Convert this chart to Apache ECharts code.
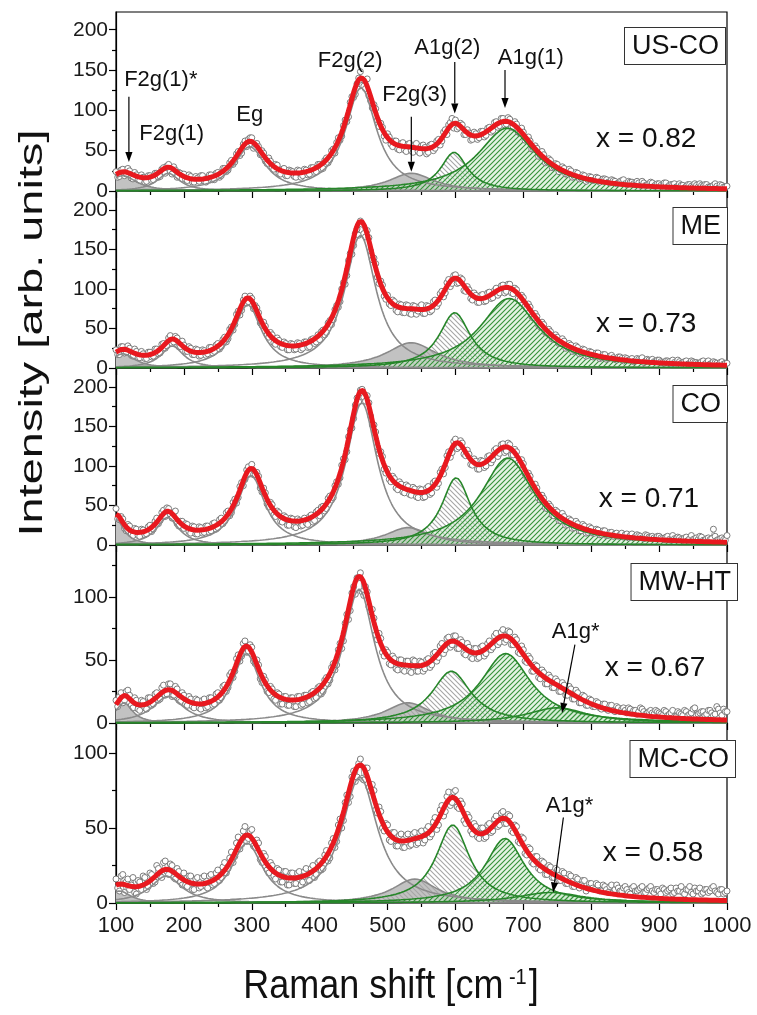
<!DOCTYPE html>
<html>
<head>
<meta charset="utf-8">
<script src="https://cdn.jsdelivr.net/npm/echarts@6/dist/echarts.min.js"></script>
<style>
  html, body { margin: 0; padding: 0; background: #fff; }
  #chart { width: 757px; height: 1015px; }
</style>
</head>
<body>
<div id="chart"></div>
<script>
// Raman spectra of five samples with their Lorentzian peak decomposition.

const FONT = '"Liberation Sans", Arial, Helvetica, sans-serif';

const sampleNames = ['US-CO', 'ME', 'CO', 'MW-HT', 'MC-CO'];
const stoichLabels = ['x = 0.82', 'x = 0.73', 'x = 0.71', 'x = 0.67', 'x = 0.58'];
const modeNames = ['F2g(1)*', 'F2g(1)', 'Eg', 'F2g(2)', 'F2g(3)', 'A1g(2)', 'A1g(1)', 'A1g*'];

const xTicks = [100, 200, 300, 400, 500, 600, 700, 800, 900, 1000];
const yMax = [222, 224, 224, 141, 120];
const yMajorTall = [0, 50, 100, 150, 200];
const yMinorTall = [25, 75, 125, 175];
const yMajorShort = [0, 50, 100];
const yMinorMid = [25, 75, 125];
const yMinorShort = [25, 75];

// Fitted peaks: centre (cm-1), height (arb. units), half width at half maximum (cm-1)
const centreUSCO = [110, 177, 297, 461, 535, 598, 676];
const heightUSCO = [19, 22, 55, 128, 22, 48, 78];
const hwhmUSCO = [25, 20, 28, 28, 40, 24, 52];

const centreME = [110, 183, 294, 460, 535, 599, 679];
const heightME = [18, 28, 80, 168, 32, 70, 88];
const hwhmME = [22, 20, 25, 28, 45, 28, 52];

const centreCO = [100, 176, 299, 462, 530, 601, 677];
const heightCO = [33, 35, 88, 180, 22, 85, 110];
const hwhmCO = [14, 20, 25, 28, 40, 26, 48];

const centreMWHT = [112, 177, 292, 458, 530, 594, 674, 750];
const heightMWHT = [16, 21, 55, 106, 16, 41, 55, 12];
const hwhmMWHT = [15, 28, 25, 28, 40, 35, 45, 55];

const centreMCCO = [105, 174, 293, 459, 540, 596, 673, 740];
const heightMCCO = [8, 18, 40, 84, 16, 52, 43, 7];
const hwhmMCCO = [20, 28, 28, 32, 40, 30, 35, 60];

// Measured intensities: one set at 100, 105, ... 1000 cm-1 and one at 102.5, 107.5, ... 997.5 cm-1
const shiftStart = 100;
const shiftStartMid = 102.5;
const shiftStep = 5;

const obsUSCO = [
  24,18,27,21,25,15,20,13,17,12,19,14,22,18,29,31,24,30,17,22,
  21,13,18,11,16,19,12,17,20,14,23,19,28,26,38,36,49,47,62,64,
  66,58,55,50,37,41,29,33,22,27,19,26,24,17,25,19,26,21,29,24,
  33,28,41,39,52,60,63,81,86,110,116,133,148,130,139,112,107,88,84,68,
  71,58,62,52,59,51,58,50,57,49,56,54,48,58,53,64,62,76,82,90,
  88,79,82,70,72,64,71,66,74,69,79,75,86,81,90,83,89,80,83,72,
  73,64,62,52,53,44,45,36,38,30,33,26,28,21,25,18,22,16,19,14,
  17,14,16,13,15,11,14,12,10,13,9,12,11,8,10,12,7,9,10,8,
  9,6,10,7,8,5,9,7,6,8,5,7,9,6,8,5,7,6,8,5,6
];
const obsUSCOmid = [
  17,26,19,28,16,23,14,20,11,19,13,22,17,27,22,33,21,26,23,15,
  14,20,11,18,12,19,11,20,14,22,17,28,24,35,33,46,44,58,55,66,
  53,59,45,47,34,37,27,32,21,28,19,25,18,26,17,27,20,29,23,33,
  27,38,35,50,47,66,68,88,92,117,120,140,131,127,118,103,102,80,79,63,
  67,55,62,51,60,49,59,48,59,47,57,46,57,50,62,57,73,70,85,78,
  77,84,70,76,63,73,64,74,67,78,73,85,79,90,82,91,79,86,73,78,
  63,67,52,56,43,49,35,40,29,34,24,30,21,27,17,23,15,20,12,18,
  13,17,11,15,14,10,13,9,12,14,8,11,9,12,7,10,8,11,6,9,
  7,10,5,8,9,6,7,4,8,6,9,5,7,8,5,6,9,4,7,5
];
const obsME = [
  23,17,27,20,25,15,21,13,18,12,20,15,24,19,31,28,41,33,38,27,
  29,21,25,17,23,16,22,18,26,21,31,27,39,37,52,55,72,73,91,84,
  88,79,70,54,53,39,42,30,35,26,31,23,30,24,31,25,33,27,37,33,
  36,48,45,60,61,79,84,108,117,145,155,176,186,170,174,148,139,115,110,91,
  92,79,84,71,80,70,79,68,78,72,80,69,78,73,86,82,97,95,112,107,
  118,108,112,97,99,86,92,83,93,85,96,89,101,95,105,97,106,94,99,86,
  89,76,77,63,65,52,55,44,46,36,39,31,34,26,29,22,26,19,23,16,
  20,15,19,13,17,12,16,11,14,12,13,10,12,9,11,13,9,10,11,8,
  10,7,9,8,10,6,8,7,9,6,8,7,6,9,7,5,8,6,7,5,6
];
const obsMEmid = [
  17,27,19,28,16,24,13,21,12,20,14,24,18,30,25,38,31,40,27,34,
  21,27,17,24,15,23,16,26,19,29,24,36,33,49,48,68,67,86,82,91,
  75,76,57,58,42,45,32,38,27,33,23,31,23,32,23,33,26,36,31,42,
  46,42,57,55,74,77,100,106,136,144,170,168,182,166,165,137,132,107,105,87,
  81,86,73,81,70,80,69,79,68,78,69,79,71,84,78,94,90,108,103,117,
  107,114,98,103,88,95,83,92,84,95,88,98,92,104,95,106,95,101,88,92,
  78,81,65,69,54,58,45,49,37,42,31,37,25,31,21,28,18,24,15,21,
  14,19,12,17,11,15,13,10,14,9,12,11,8,12,10,7,11,9,8,10,
  8,6,9,5,7,10,6,8,5,9,7,6,8,5,9,6,7,4,8,6
];
const obsCO = [
  46,32,33,18,24,12,20,11,19,14,25,20,34,31,44,47,39,41,27,30,
  21,26,15,23,14,22,16,24,18,28,22,34,30,43,41,58,60,79,83,99,
  102,89,87,67,66,48,51,36,41,29,35,25,33,22,31,25,28,36,29,42,
  37,49,46,62,60,80,85,109,118,146,160,186,196,187,189,163,152,124,118,96,
  96,80,84,70,77,66,74,63,71,60,70,61,74,66,81,78,96,98,118,117,
  134,124,129,113,115,101,106,96,106,100,113,108,122,116,128,119,127,114,118,102,
  103,86,87,70,72,57,59,46,49,37,42,31,36,26,31,22,27,18,24,16,
  21,15,19,13,18,12,16,14,11,15,13,9,14,11,12,9,13,10,11,8,
  11,8,10,7,12,8,9,6,10,8,7,9,11,6,8,7,20,6,8,7,12
];
const obsCOmid = [
  33,36,21,26,14,21,12,20,13,23,17,30,27,41,36,46,34,43,24,30,
  27,17,24,14,23,15,24,16,27,20,32,27,41,37,54,53,74,75,95,90,
  89,92,72,72,52,54,38,43,30,37,25,34,23,33,24,34,26,38,31,44,
  48,43,59,57,75,77,101,108,137,148,177,181,197,182,180,152,143,116,112,91,
  83,87,72,80,67,76,64,73,61,71,60,72,64,79,73,92,90,113,111,131,
  122,132,115,120,102,109,96,107,98,112,104,120,112,127,117,129,114,121,104,108,
  90,91,73,77,59,63,47,52,38,44,31,40,25,33,21,30,18,26,15,23,
  15,20,13,18,12,16,11,15,13,10,14,12,9,13,11,8,12,10,9,11,
  9,7,11,6,8,10,7,9,6,12,8,7,10,6,9,8,11,7,9,6
];
const obsMWHT = [
  18,21,16,25,22,12,18,10,17,11,20,15,24,19,30,23,31,22,27,17,
  22,14,19,12,18,11,19,13,20,15,24,20,30,28,40,41,54,53,65,57,
  60,47,46,32,34,24,27,18,23,15,21,14,20,13,21,15,22,17,25,20,
  29,25,36,34,47,46,63,65,86,89,108,115,119,101,104,88,83,66,67,53,
  56,46,51,42,50,41,49,40,49,41,48,43,51,46,56,52,63,58,68,62,
  69,59,64,54,60,51,59,52,61,55,65,60,71,64,74,66,72,62,66,55,
  58,48,51,41,45,35,40,31,36,28,33,25,30,22,27,19,24,16,21,14,
  18,13,16,11,15,10,14,9,12,11,10,12,8,10,9,11,7,9,8,10,
  8,6,9,7,10,5,8,6,9,7,11,6,8,9,7,10,6,13,8,11,9
];
const obsMWHTmid = [
  13,24,18,26,14,20,11,18,12,20,14,23,18,28,22,31,21,29,18,24,
  15,21,13,19,12,18,12,20,14,23,18,29,25,38,36,51,49,63,56,62,
  49,50,35,37,25,29,19,24,15,21,14,20,13,21,14,22,16,24,19,28,
  23,34,31,44,42,58,59,79,82,103,102,115,104,108,92,90,70,71,56,58,
  47,53,43,50,42,49,41,50,41,49,41,50,44,55,49,61,55,67,60,69,
  59,66,55,63,52,59,51,60,53,63,58,69,62,72,64,73,62,68,56,61,
  49,53,41,46,36,42,31,38,28,35,25,32,22,29,19,26,16,22,14,19,
  13,17,12,15,11,14,10,13,9,12,8,11,10,7,12,9,8,10,7,9,
  7,10,6,8,5,9,7,10,6,8,12,7,9,6,10,8,7,11,6,9
];
const obsMCCO = [
  16,8,19,14,9,17,6,14,18,9,20,13,25,18,27,21,26,17,23,14,
  20,11,18,9,17,11,18,10,19,13,22,17,27,23,34,31,44,39,51,43,
  49,37,40,27,31,20,25,16,22,14,21,12,20,13,21,14,23,15,25,19,
  28,23,35,30,43,41,56,55,72,71,88,84,96,82,90,75,75,60,61,48,
  52,41,47,38,46,37,46,39,47,40,48,42,51,46,57,52,65,61,74,67,
  75,63,66,53,57,46,51,43,50,44,53,48,58,52,61,53,58,47,51,40,
  43,32,36,26,31,22,27,19,24,17,22,15,20,13,18,11,16,12,15,10,
  13,9,12,8,11,7,12,9,10,8,11,7,10,8,9,11,7,10,8,9,
  8,10,7,9,6,10,8,7,9,11,6,8,10,7,9,8,11,7,9,6,8
];
const obsMCCOmid = [
  10,18,7,16,12,7,15,9,17,11,19,14,23,17,28,19,25,16,21,12,
  12,18,9,16,10,17,11,18,12,20,15,24,20,30,27,40,36,48,41,48,
  38,42,29,33,22,27,18,23,14,21,12,20,13,20,12,21,15,23,17,27,
  22,32,28,40,37,52,50,67,67,84,81,93,83,90,77,79,62,64,50,53,
  42,47,38,45,37,45,38,46,39,47,40,49,44,54,49,62,58,71,65,74,
  64,68,55,59,48,53,44,50,43,52,47,56,51,60,53,59,48,52,41,44,
  33,37,27,31,23,28,19,25,17,23,15,21,13,19,11,17,10,15,8,13,
  10,13,8,12,9,11,7,12,8,10,9,6,11,8,10,7,9,11,7,9,
  6,9,8,10,7,8,11,6,9,7,10,8,6,9,7,10,8,6,9,7
];

const peakCentres = [centreUSCO, centreME, centreCO, centreMWHT, centreMCCO];
const peakHeights = [heightUSCO, heightME, heightCO, heightMWHT, heightMCCO];
const peakWidths = [hwhmUSCO, hwhmME, hwhmCO, hwhmMWHT, hwhmMCCO];
const observed = [obsUSCO, obsME, obsCO, obsMWHT, obsMCCO];
const observedMid = [obsUSCOmid, obsMEmid, obsCOmid, obsMWHTmid, obsMCCOmid];

// Panel layout in pixels
const gridTop = [12, 191, 368, 545, 723];
const gridHeight = [179, 177, 177, 178, 180];
const gridLeft = 116, gridRight = 30;

// Annotations: [panel, label, x, y]
const modeLabels = [
  [0, 'F2g(1)*', 166, 138], [0, 'F2g(1)', 182, 71], [0, 'Eg', 297, 94],
  [0, 'F2g(2)', 445, 161], [0, 'F2g(3)', 540, 119], [0, 'A1g(2)', 588, 178],
  [0, 'A1g(1)', 711, 165], [3, 'A1g*', 777, 72], [4, 'A1g*', 768, 65]
];
// Arrows: [panel, fromX, fromY, toX, toY]
const modeArrows = [
  [0, 119, 117, 119, 36], [0, 535, 92, 535, 24], [0, 599, 160, 599, 96],
  [0, 673, 150, 673, 103], [3, 776, 62, 757, 8], [4, 759, 57, 744, 7]
];
// Composition label positions: [x, y] per panel
const stoichPos = [[881, 64], [881, 55], [885, 58], [894, 43], [891, 33]];
// Sample box: right edge and top (px)
const boxRight = [725, 727, 727, 737, 735];
const boxTop = [28, 208, 386, 564, 741];

function lorentz(h, c, w, x) {
  const d = (x - c) / w;
  return h / (1 + d * d);
}

function hatch(stroke, bg, rising) {
  const s = 5;
  const cv = document.createElement('canvas');
  cv.width = s; cv.height = s;
  const g = cv.getContext('2d');
  if (bg) { g.fillStyle = bg; g.fillRect(0, 0, s, s); }
  g.strokeStyle = stroke;
  g.lineWidth = 1.1;
  g.beginPath();
  if (rising) {
    g.moveTo(0, s); g.lineTo(s, 0);
    g.moveTo(-1, 1); g.lineTo(1, -1);
    g.moveTo(s - 1, s + 1); g.lineTo(s + 1, s - 1);
  } else {
    g.moveTo(0, 0); g.lineTo(s, s);
    g.moveTo(s - 1, -1); g.lineTo(s + 1, 1);
    g.moveTo(-1, s - 1); g.lineTo(1, s + 1);
  }
  g.stroke();
  return cv;
}

const GREY_LINE = '#8a8a8a';
const GREEN_LINE = '#27862a';
const RED = '#e8191f';
const greyFill = '#c2c2c2';
const greyHatch = { image: hatch('#a6a6a6', null, false), repeat: 'repeat' };
const greenHatch = { image: hatch('#35923a', 'rgba(200,232,200,0.5)', true), repeat: 'repeat' };

// Per mode: line colour and area fill
const modeStyle = [
  { line: GREY_LINE, fill: greyFill },
  { line: GREY_LINE, fill: null },
  { line: GREY_LINE, fill: null },
  { line: GREY_LINE, fill: null },
  { line: GREY_LINE, fill: greyFill },
  { line: GREEN_LINE, fill: greyHatch },
  { line: GREEN_LINE, fill: greenHatch },
  { line: GREEN_LINE, fill: greenHatch }
];

const grids = [], xAxes = [], yAxes = [], yMinorAxes = [], series = [];

for (let p = 0; p < 5; p++) {
  grids.push({
    left: gridLeft, right: gridRight, top: gridTop[p], height: gridHeight[p],
    show: true, borderColor: '#000', borderWidth: 1.2, backgroundColor: 'transparent'
  });
  xAxes.push({
    gridIndex: p, type: 'value', min: 100, max: 1000, interval: 100,
    axisLine: { show: true, onZero: false, lineStyle: { color: '#000', width: 1.2 } },
    axisTick: { show: true, inside: false, length: 7, lineStyle: { color: '#000', width: 1.2 } },
    minorTick: { show: true, splitNumber: 2, length: 4, lineStyle: { color: '#000', width: 1.2 } },
    axisLabel: { show: p === 4, fontSize: 22, fontFamily: FONT, color: '#1a1a1a', margin: 12,
      customValues: xTicks, formatter: (v) => String(v) },
    splitLine: { show: false }, minorSplitLine: { show: false }
  });
  const major = p < 3 ? yMajorTall : yMajorShort;
  const minor = p < 3 ? yMinorTall : (p === 3 ? yMinorMid : yMinorShort);
  yAxes.push({
    gridIndex: p, type: 'value', min: 0, max: yMax[p], position: 'left',
    axisLine: { show: true, onZero: false, lineStyle: { color: '#000', width: 1.2 } },
    axisTick: { show: true, inside: false, length: 7, customValues: major,
      lineStyle: { color: '#000', width: 1.2 } },
    axisLabel: { show: true, fontSize: 21, fontFamily: FONT, color: '#1a1a1a', margin: 8,
      customValues: major, formatter: (v) => String(v) },
    splitLine: { show: false }
  });
  yMinorAxes.push({
    gridIndex: p, type: 'value', min: 0, max: yMax[p], position: 'left',
    axisLine: { show: false },
    axisTick: { show: true, inside: false, length: 4, customValues: minor,
      lineStyle: { color: '#000', width: 1.2 } },
    axisLabel: { show: false },
    splitLine: { show: false }
  });
}

for (let p = 0; p < 5; p++) {
  const cs = peakCentres[p], hs = peakHeights[p], ws = peakWidths[p];
  const curves = cs.map(() => []);
  const fit = [];
  for (let x = 100; x <= 1000; x += 2) {
    let sum = 0;
    for (let m = 0; m < cs.length; m++) {
      const v = lorentz(hs[m], cs[m], ws[m], x);
      curves[m].push([x, v]);
      sum += v;
    }
    fit.push([x, sum]);
  }
  const common = { xAxisIndex: p, yAxisIndex: p, silent: true, animation: false };

  // filled peak areas
  for (let m = 0; m < cs.length; m++) {
    if (!modeStyle[m].fill) continue;
    series.push(Object.assign({
      type: 'line', name: sampleNames[p] + ' ' + modeNames[m] + ' area',
      data: curves[m], showSymbol: false, symbol: 'none',
      lineStyle: { width: 0 },
      areaStyle: { color: modeStyle[m].fill, opacity: 1 },
      z: 1
    }, common));
  }
  // measured spectrum, both sampling sets merged in order of Raman shift
  const pts = [];
  observed[p].forEach((v, k) => {
    pts.push([shiftStart + k * shiftStep, v]);
    if (k < observedMid[p].length) pts.push([shiftStartMid + k * shiftStep, observedMid[p][k]]);
  });
  series.push(Object.assign({
    type: 'line', name: sampleNames[p] + ' data', data: pts,
    symbol: 'circle', symbolSize: 6, showSymbol: true,
    itemStyle: { color: '#ffffff', borderColor: '#6e6e6e', borderWidth: 0.9 },
    lineStyle: { color: '#222', width: 0.6, opacity: 0.7 },
    z: 2
  }, common));
  // individual peak outlines
  for (let m = 0; m < cs.length; m++) {
    series.push(Object.assign({
      type: 'line', name: sampleNames[p] + ' ' + modeNames[m],
      data: curves[m], showSymbol: false, symbol: 'none',
      lineStyle: { color: modeStyle[m].line, width: 1.6 },
      z: 3
    }, common));
  }
  // cumulative fit
  series.push(Object.assign({
    type: 'line', name: sampleNames[p] + ' fit', data: fit,
    showSymbol: false, symbol: 'none',
    lineStyle: { color: RED, width: 5 },
    z: 4
  }, common));
}

const chart = echarts.init(document.getElementById('chart'), null, { renderer: 'canvas' });
chart.setOption({
  backgroundColor: '#ffffff',
  animation: false,
  grid: grids,
  xAxis: xAxes,
  yAxis: yAxes.concat(yMinorAxes),
  series: series
});

function toPx(p, x, y) {
  return chart.convertToPixel({ xAxisIndex: p, yAxisIndex: p }, [x, y]);
}

const graphics = [];

function textEl(x, y, text, size) {
  return {
    type: 'text', x: x, y: y, z: 100,
    style: {
      text: text, font: size + 'px ' + FONT, fill: '#111',
      align: 'center', verticalAlign: 'middle',
      textAlign: 'center', textVerticalAlign: 'middle'
    }
  };
}

modeLabels.forEach(([p, label, x, y]) => {
  const q = toPx(p, x, y);
  graphics.push(textEl(q[0], q[1], label, 22));
});

modeArrows.forEach(([p, x0, y0, x1, y1]) => {
  const a = toPx(p, x0, y0), b = toPx(p, x1, y1);
  const dx = b[0] - a[0], dy = b[1] - a[1];
  const len = Math.hypot(dx, dy), ux = dx / len, uy = dy / len;
  const hl = 10, hw = 3.6;
  const bx = b[0] - ux * hl, by = b[1] - uy * hl;
  graphics.push({ type: 'line', z: 100,
    shape: { x1: a[0], y1: a[1], x2: bx, y2: by },
    style: { stroke: '#000', lineWidth: 1.2 } });
  graphics.push({ type: 'polygon', z: 100,
    shape: { points: [[b[0], b[1]], [bx - uy * hw, by + ux * hw], [bx + uy * hw, by - ux * hw]] },
    style: { fill: '#000' } });
});

stoichPos.forEach(([x, y], p) => {
  const q = toPx(p, x, y);
  graphics.push(textEl(q[0], q[1], stoichLabels[p], 28));
});

sampleNames.forEach((name, p) => {
  graphics.push({
    type: 'text', x: boxRight[p], y: boxTop[p], z: 101,
    style: {
      text: name, font: '27px ' + FONT, fill: '#111',
      align: 'right', verticalAlign: 'top', textAlign: 'right', textVerticalAlign: 'top',
      backgroundColor: '#fff', borderColor: '#333', borderWidth: 1,
      padding: [5, 6, 4, 7]
    }
  });
});

// axis titles
graphics.push({
  type: 'text', x: 33, y: 333, rotation: Math.PI / 2, scaleX: 1.38, z: 100,
  style: {
    text: 'Intensity [arb. units]', font: '34px ' + FONT, fill: '#111',
    align: 'center', verticalAlign: 'middle', textAlign: 'center', textVerticalAlign: 'middle'
  }
});
graphics.push({
  type: 'text', x: 391, y: 987, scaleY: 1.12, z: 100,
  style: {
    text: '{m|Raman shift [cm}{s| -1}{m|]}',
    align: 'center', verticalAlign: 'middle', textAlign: 'center', textVerticalAlign: 'middle',
    rich: {
      m: { fontSize: 36, fontFamily: FONT, fill: '#111', color: '#111' },
      s: { fontSize: 20, fontFamily: FONT, fill: '#111', color: '#111', verticalAlign: 'top', padding: [0, 2, 16, 0] }
    }
  }
});

chart.setOption({ graphic: { elements: graphics } });
</script>
</body>
</html>
